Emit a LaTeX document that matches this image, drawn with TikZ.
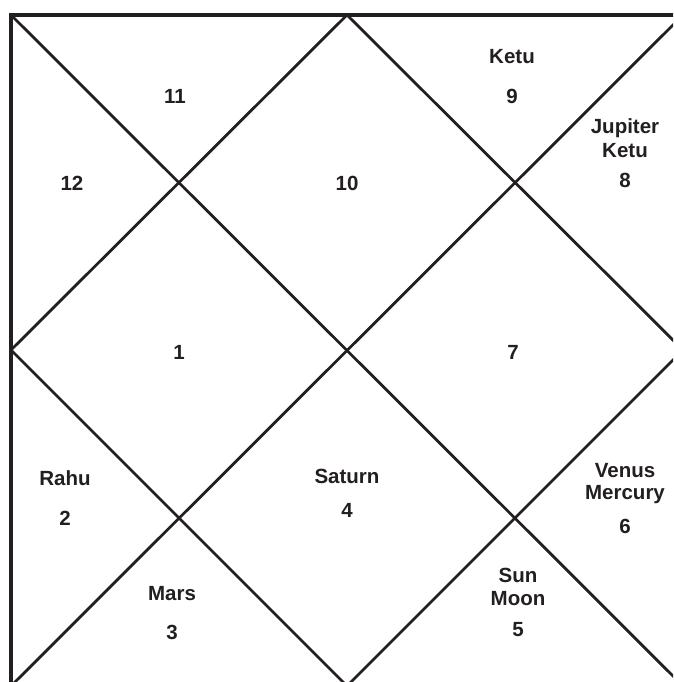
\documentclass[tikz,border=0pt]{standalone}
\usepackage{fontspec}
\setmainfont{Liberation Sans}
\definecolor{ink}{HTML}{231F20}
\begin{document}
\begin{tikzpicture}[x=1pt,y=-1pt,
  frame/.style={draw=ink,line width=3.4pt},
  diag/.style={draw=ink,line width=2.8pt},
  lbl/.style={anchor=base,inner sep=0pt,text=ink,font=\fontsize{20.5}{23}\selectfont\bfseries}]
\useasboundingbox (0,0) rectangle (673,682);
\clip (0,0) rectangle (673,682);
\fill[white] (0,0) rectangle (673,682);
\coordinate (TL) at (11,15);
\coordinate (TR) at (683,15);
\coordinate (BL) at (11,686);
\coordinate (BR) at (683,686);
\coordinate (T) at (347,15);
\coordinate (L) at (11,350);
\coordinate (R) at (683,350);
\coordinate (B) at (347,686);
% diagonals
\draw[diag] (TL) -- (BR);
\draw[diag] (TR) -- (BL);
\draw[diag] (T) -- (R) -- (B) -- (L) -- cycle;
% frame
\draw[frame] (BL) -- (TL) -- (TR) -- (BR) -- cycle;
% labels
\node[lbl] (h11) at (175,103) {11};
\node[lbl] (h12) at (72,190) {12};
\node[lbl] (h10) at (347,190) {10};
\node[lbl] (p9) at (512,64) {Ketu};
\node[lbl] (h9) at (512,104) {9};
\node[lbl] (p8a) at (625,133) {Jupiter};
\node[lbl] (p8b) at (625,157) {Ketu};
\node[lbl] (h8) at (625,187) {8};
\node[lbl] (h1) at (179,359) {1};
\node[lbl] (h7) at (513,359) {7};
\node[lbl] (p2) at (65,485) {Rahu};
\node[lbl] (h2) at (65,525) {2};
\node[lbl] (p4) at (347,483) {Saturn};
\node[lbl] (h4) at (347,517) {4};
\node[lbl] (p6a) at (625,477) {Venus};
\node[lbl] (p6b) at (625,499) {Mercury};
\node[lbl] (h6) at (625,533) {6};
\node[lbl] (p3) at (172,600) {Mars};
\node[lbl] (h3) at (172,639) {3};
\node[lbl] (p5a) at (518,582) {Sun};
\node[lbl] (p5b) at (518,605) {Moon};
\node[lbl] (h5) at (518,636) {5};
\end{tikzpicture}
\end{document}
